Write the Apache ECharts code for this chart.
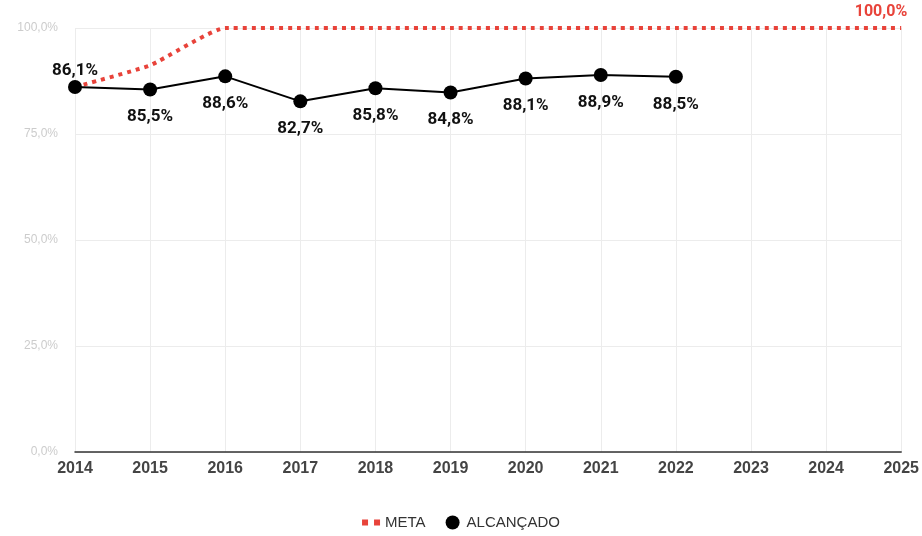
<!DOCTYPE html>
<html>
<head>
<meta charset="utf-8">
<script src="https://cdn.jsdelivr.net/npm/echarts@6/dist/echarts.min.js"></script>
<style>
  html, body { margin: 0; padding: 0; background: #fff; }
  #main { width: 922px; height: 536px; }
</style>
</head>
<body>
<div id="main"></div>
<script>
const years = ['2014', '2015', '2016', '2017', '2018', '2019', '2020', '2021', '2022', '2023', '2024', '2025'];
const meta = [86.1, 91.2, 100, 100, 100, 100, 100, 100, 100, 100, 100, 100];
const alcancado = [86.1, 85.5, 88.6, 82.7, 85.8, 84.8, 88.1, 88.9, 88.5];
const yTicks = [0, 25, 50, 75, 100];

const fmt = v => v.toFixed(1).replace('.', ',') + '%';

const chart = echarts.init(document.getElementById('main'));
chart.setOption({
  animation: false,
  textStyle: { fontFamily: 'Roboto, Arial, sans-serif' },
  grid: { left: 75, right: 17, top: 28, bottom: 84 },
  legend: {
    bottom: 1,
    itemGap: 20,
    itemWidth: 18,
    itemHeight: 14,
    textStyle: { fontSize: 15, color: '#333', fontFamily: 'Arial, Liberation Sans, sans-serif' },
    data: [
      { name: 'META', icon: 'path://M0,0L0.01,0Z M0,4h6v6h-6z M12,4h6v6h-6z M18,14L18.01,14Z' },
      { name: 'ALCANÇADO', icon: 'circle' }
    ]
  },
  xAxis: {
    type: 'category',
    data: years,
    boundaryGap: false,
    axisLine: { lineStyle: { color: '#333', width: 1.5 } },
    axisTick: { show: false },
    axisLabel: { fontSize: 16, fontWeight: 'bold', color: '#444', margin: 9, fontFamily: 'Arial, Liberation Sans, sans-serif' },
    splitLine: { show: true, lineStyle: { color: '#ececec' } }
  },
  yAxis: {
    type: 'value',
    min: yTicks[0],
    max: yTicks[yTicks.length - 1],
    interval: 25,
    axisLine: { show: false },
    axisTick: { show: false },
    axisLabel: { fontSize: 12, color: '#cccccc', margin: 17, formatter: v => fmt(v), fontFamily: 'Arial, Liberation Sans, sans-serif' },
    splitLine: { lineStyle: { color: '#ececec' } }
  },
  series: [
    {
      name: 'META',
      type: 'line',
      data: meta,
      smooth: 0.15,
      showSymbol: false,
      symbol: 'none',
      color: '#e8433a',
      lineStyle: { color: '#e8433a', width: 4, type: [4, 5] },
      label: { show: false },
      endLabel: {
        show: true,
        formatter: p => fmt(p.value),
        color: '#e8433a',
        fontSize: 16,
        fontWeight: 'bold',
        align: 'right',
        offset: [-2, -16],
        fontFamily: 'Roboto, Arial, sans-serif'
      },
      z: 2
    },
    {
      name: 'ALCANÇADO',
      type: 'line',
      data: alcancado,
      symbol: 'circle',
      symbolSize: 14,
      color: '#000',
      lineStyle: { color: '#000', width: 2 },
      itemStyle: { color: '#000' },
      label: {
        show: true,
        position: 'bottom',
        distance: 12,
        formatter: p => fmt(p.value),
        color: '#111',
        fontSize: 17,
        fontWeight: 'bold',
        fontFamily: 'Roboto, Arial, sans-serif'
      },
      labelLayout: p => p.dataIndex === 0 ? { dy: -44 } : {},
      z: 3
    }
  ]
});
</script>
</body>
</html>
